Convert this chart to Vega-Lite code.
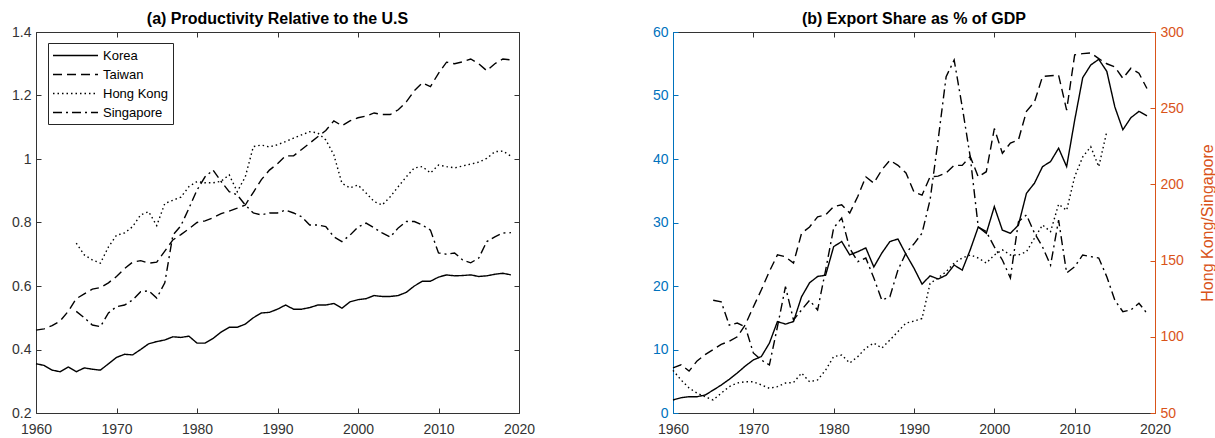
{
  "$schema": "https://vega.github.io/schema/vega-lite/v6.json",
  "padding": {"left": 11, "top": 11, "right": 0, "bottom": 0},
  "config": {
    "font": "Liberation Sans",
    "view": {"stroke": null},
    "concat": {"spacing": 117},
    "axis": {
      "grid": false,
      "title": null,
      "labelFont": "Liberation Sans",
      "labelFontSize": 14,
      "labelColor": "#333333",
      "domainColor": "#333333",
      "tickColor": "#333333",
      "domainWidth": 1,
      "tickWidth": 1,
      "tickSize": -5,
      "labelFlush": false,
      "labelOverlap": false
    },
    "axisX": {"labelPadding": 14},
    "axisY": {"labelPadding": 10},
    "title": {"font": "Liberation Sans", "fontSize": 16, "fontWeight": "bold", "color": "#000000", "offset": -2, "anchor": "middle", "frame": "group"}
  },
  "datasets": {
    "prod": [
      {"c":"Korea","y":1960,"v":0.355},{"c":"Korea","y":1961,"v":0.35},{"c":"Korea","y":1962,"v":0.335},{"c":"Korea","y":1963,"v":0.33},{"c":"Korea","y":1964,"v":0.345},{"c":"Korea","y":1965,"v":0.33},{"c":"Korea","y":1966,"v":0.342},{"c":"Korea","y":1967,"v":0.338},{"c":"Korea","y":1968,"v":0.335},{"c":"Korea","y":1969,"v":0.355},
      {"c":"Korea","y":1970,"v":0.375},{"c":"Korea","y":1971,"v":0.385},{"c":"Korea","y":1972,"v":0.383},{"c":"Korea","y":1973,"v":0.4},{"c":"Korea","y":1974,"v":0.418},{"c":"Korea","y":1975,"v":0.425},{"c":"Korea","y":1976,"v":0.43},{"c":"Korea","y":1977,"v":0.44},{"c":"Korea","y":1978,"v":0.438},{"c":"Korea","y":1979,"v":0.442},
      {"c":"Korea","y":1980,"v":0.42},{"c":"Korea","y":1981,"v":0.42},{"c":"Korea","y":1982,"v":0.435},{"c":"Korea","y":1983,"v":0.455},{"c":"Korea","y":1984,"v":0.47},{"c":"Korea","y":1985,"v":0.47},{"c":"Korea","y":1986,"v":0.48},{"c":"Korea","y":1987,"v":0.5},{"c":"Korea","y":1988,"v":0.515},{"c":"Korea","y":1989,"v":0.517},
      {"c":"Korea","y":1990,"v":0.527},{"c":"Korea","y":1991,"v":0.54},{"c":"Korea","y":1992,"v":0.527},{"c":"Korea","y":1993,"v":0.527},{"c":"Korea","y":1994,"v":0.532},{"c":"Korea","y":1995,"v":0.54},{"c":"Korea","y":1996,"v":0.54},{"c":"Korea","y":1997,"v":0.545},{"c":"Korea","y":1998,"v":0.53},{"c":"Korea","y":1999,"v":0.55},
      {"c":"Korea","y":2000,"v":0.557},{"c":"Korea","y":2001,"v":0.56},{"c":"Korea","y":2002,"v":0.57},{"c":"Korea","y":2003,"v":0.567},{"c":"Korea","y":2004,"v":0.567},{"c":"Korea","y":2005,"v":0.57},{"c":"Korea","y":2006,"v":0.58},{"c":"Korea","y":2007,"v":0.6},{"c":"Korea","y":2008,"v":0.615},{"c":"Korea","y":2009,"v":0.615},
      {"c":"Korea","y":2010,"v":0.628},{"c":"Korea","y":2011,"v":0.635},{"c":"Korea","y":2012,"v":0.632},{"c":"Korea","y":2013,"v":0.633},{"c":"Korea","y":2014,"v":0.635},{"c":"Korea","y":2015,"v":0.63},{"c":"Korea","y":2016,"v":0.632},{"c":"Korea","y":2017,"v":0.637},{"c":"Korea","y":2018,"v":0.64},{"c":"Korea","y":2019,"v":0.635},

      {"c":"Taiwan","y":1960,"v":0.461},{"c":"Taiwan","y":1961,"v":0.465},{"c":"Taiwan","y":1962,"v":0.475},{"c":"Taiwan","y":1963,"v":0.49},{"c":"Taiwan","y":1964,"v":0.52},{"c":"Taiwan","y":1965,"v":0.56},{"c":"Taiwan","y":1966,"v":0.575},{"c":"Taiwan","y":1967,"v":0.59},{"c":"Taiwan","y":1968,"v":0.595},{"c":"Taiwan","y":1969,"v":0.61},
      {"c":"Taiwan","y":1970,"v":0.63},{"c":"Taiwan","y":1971,"v":0.655},{"c":"Taiwan","y":1972,"v":0.675},{"c":"Taiwan","y":1973,"v":0.68},{"c":"Taiwan","y":1974,"v":0.672},{"c":"Taiwan","y":1975,"v":0.675},{"c":"Taiwan","y":1976,"v":0.71},{"c":"Taiwan","y":1977,"v":0.745},{"c":"Taiwan","y":1978,"v":0.762},{"c":"Taiwan","y":1979,"v":0.78},
      {"c":"Taiwan","y":1980,"v":0.8},{"c":"Taiwan","y":1981,"v":0.805},{"c":"Taiwan","y":1982,"v":0.815},{"c":"Taiwan","y":1983,"v":0.828},{"c":"Taiwan","y":1984,"v":0.836},{"c":"Taiwan","y":1985,"v":0.845},{"c":"Taiwan","y":1986,"v":0.855},{"c":"Taiwan","y":1987,"v":0.895},{"c":"Taiwan","y":1988,"v":0.935},{"c":"Taiwan","y":1989,"v":0.965},
      {"c":"Taiwan","y":1990,"v":0.985},{"c":"Taiwan","y":1991,"v":1.01},{"c":"Taiwan","y":1992,"v":1.01},{"c":"Taiwan","y":1993,"v":1.03},{"c":"Taiwan","y":1994,"v":1.05},{"c":"Taiwan","y":1995,"v":1.07},{"c":"Taiwan","y":1996,"v":1.09},{"c":"Taiwan","y":1997,"v":1.12},{"c":"Taiwan","y":1998,"v":1.105},{"c":"Taiwan","y":1999,"v":1.12},
      {"c":"Taiwan","y":2000,"v":1.13},{"c":"Taiwan","y":2001,"v":1.135},{"c":"Taiwan","y":2002,"v":1.145},{"c":"Taiwan","y":2003,"v":1.14},{"c":"Taiwan","y":2004,"v":1.14},{"c":"Taiwan","y":2005,"v":1.155},{"c":"Taiwan","y":2006,"v":1.18},{"c":"Taiwan","y":2007,"v":1.215},{"c":"Taiwan","y":2008,"v":1.24},{"c":"Taiwan","y":2009,"v":1.228},
      {"c":"Taiwan","y":2010,"v":1.27},{"c":"Taiwan","y":2011,"v":1.305},{"c":"Taiwan","y":2012,"v":1.3},{"c":"Taiwan","y":2013,"v":1.306},{"c":"Taiwan","y":2014,"v":1.315},{"c":"Taiwan","y":2015,"v":1.3},{"c":"Taiwan","y":2016,"v":1.278},{"c":"Taiwan","y":2017,"v":1.3},{"c":"Taiwan","y":2018,"v":1.315},{"c":"Taiwan","y":2019,"v":1.312},

      {"c":"Hong Kong","y":1965,"v":0.735},{"c":"Hong Kong","y":1966,"v":0.698},{"c":"Hong Kong","y":1967,"v":0.682},{"c":"Hong Kong","y":1968,"v":0.672},{"c":"Hong Kong","y":1969,"v":0.723},
      {"c":"Hong Kong","y":1970,"v":0.76},{"c":"Hong Kong","y":1971,"v":0.767},{"c":"Hong Kong","y":1972,"v":0.787},{"c":"Hong Kong","y":1973,"v":0.824},{"c":"Hong Kong","y":1974,"v":0.834},{"c":"Hong Kong","y":1975,"v":0.79},{"c":"Hong Kong","y":1976,"v":0.86},{"c":"Hong Kong","y":1977,"v":0.87},{"c":"Hong Kong","y":1978,"v":0.88},{"c":"Hong Kong","y":1979,"v":0.913},
      {"c":"Hong Kong","y":1980,"v":0.929},{"c":"Hong Kong","y":1981,"v":0.925},{"c":"Hong Kong","y":1982,"v":0.925},{"c":"Hong Kong","y":1983,"v":0.93},{"c":"Hong Kong","y":1984,"v":0.95},{"c":"Hong Kong","y":1985,"v":0.897},{"c":"Hong Kong","y":1986,"v":0.944},{"c":"Hong Kong","y":1987,"v":1.039},{"c":"Hong Kong","y":1988,"v":1.044},{"c":"Hong Kong","y":1989,"v":1.038},
      {"c":"Hong Kong","y":1990,"v":1.045},{"c":"Hong Kong","y":1991,"v":1.055},{"c":"Hong Kong","y":1992,"v":1.066},{"c":"Hong Kong","y":1993,"v":1.076},{"c":"Hong Kong","y":1994,"v":1.086},{"c":"Hong Kong","y":1995,"v":1.082},{"c":"Hong Kong","y":1996,"v":1.06},{"c":"Hong Kong","y":1997,"v":1.013},{"c":"Hong Kong","y":1998,"v":0.924},{"c":"Hong Kong","y":1999,"v":0.909},
      {"c":"Hong Kong","y":2000,"v":0.918},{"c":"Hong Kong","y":2001,"v":0.893},{"c":"Hong Kong","y":2002,"v":0.866},{"c":"Hong Kong","y":2003,"v":0.855},{"c":"Hong Kong","y":2004,"v":0.881},{"c":"Hong Kong","y":2005,"v":0.913},{"c":"Hong Kong","y":2006,"v":0.944},{"c":"Hong Kong","y":2007,"v":0.972},{"c":"Hong Kong","y":2008,"v":0.976},{"c":"Hong Kong","y":2009,"v":0.956},
      {"c":"Hong Kong","y":2010,"v":0.981},{"c":"Hong Kong","y":2011,"v":0.976},{"c":"Hong Kong","y":2012,"v":0.972},{"c":"Hong Kong","y":2013,"v":0.978},{"c":"Hong Kong","y":2014,"v":0.984},{"c":"Hong Kong","y":2015,"v":0.99},{"c":"Hong Kong","y":2016,"v":1.002},{"c":"Hong Kong","y":2017,"v":1.023},{"c":"Hong Kong","y":2018,"v":1.025},{"c":"Hong Kong","y":2019,"v":1.009},

      {"c":"Singapore","y":1965,"v":0.52},{"c":"Singapore","y":1966,"v":0.5},{"c":"Singapore","y":1967,"v":0.477},{"c":"Singapore","y":1968,"v":0.472},{"c":"Singapore","y":1969,"v":0.515},
      {"c":"Singapore","y":1970,"v":0.535},{"c":"Singapore","y":1971,"v":0.54},{"c":"Singapore","y":1972,"v":0.556},{"c":"Singapore","y":1973,"v":0.582},{"c":"Singapore","y":1974,"v":0.585},{"c":"Singapore","y":1975,"v":0.562},{"c":"Singapore","y":1976,"v":0.61},{"c":"Singapore","y":1977,"v":0.76},{"c":"Singapore","y":1978,"v":0.79},{"c":"Singapore","y":1979,"v":0.845},
      {"c":"Singapore","y":1980,"v":0.902},{"c":"Singapore","y":1981,"v":0.944},{"c":"Singapore","y":1982,"v":0.965},{"c":"Singapore","y":1983,"v":0.929},{"c":"Singapore","y":1984,"v":0.897},{"c":"Singapore","y":1985,"v":0.887},{"c":"Singapore","y":1986,"v":0.855},{"c":"Singapore","y":1987,"v":0.83},{"c":"Singapore","y":1988,"v":0.824},{"c":"Singapore","y":1989,"v":0.83},
      {"c":"Singapore","y":1990,"v":0.83},{"c":"Singapore","y":1991,"v":0.839},{"c":"Singapore","y":1992,"v":0.83},{"c":"Singapore","y":1993,"v":0.818},{"c":"Singapore","y":1994,"v":0.792},{"c":"Singapore","y":1995,"v":0.792},{"c":"Singapore","y":1996,"v":0.787},{"c":"Singapore","y":1997,"v":0.755},{"c":"Singapore","y":1998,"v":0.74},{"c":"Singapore","y":1999,"v":0.76},
      {"c":"Singapore","y":2000,"v":0.786},{"c":"Singapore","y":2001,"v":0.798},{"c":"Singapore","y":2002,"v":0.783},{"c":"Singapore","y":2003,"v":0.767},{"c":"Singapore","y":2004,"v":0.754},{"c":"Singapore","y":2005,"v":0.783},{"c":"Singapore","y":2006,"v":0.803},{"c":"Singapore","y":2007,"v":0.803},{"c":"Singapore","y":2008,"v":0.792},{"c":"Singapore","y":2009,"v":0.776},
      {"c":"Singapore","y":2010,"v":0.704},{"c":"Singapore","y":2011,"v":0.7},{"c":"Singapore","y":2012,"v":0.704},{"c":"Singapore","y":2013,"v":0.682},{"c":"Singapore","y":2014,"v":0.673},{"c":"Singapore","y":2015,"v":0.688},{"c":"Singapore","y":2016,"v":0.74},{"c":"Singapore","y":2017,"v":0.755},{"c":"Singapore","y":2018,"v":0.767},{"c":"Singapore","y":2019,"v":0.768}
    ],
    "expA": [
      {"c":"Korea","y":1960,"v":2.05},{"c":"Korea","y":1961,"v":2.4},{"c":"Korea","y":1962,"v":2.57},{"c":"Korea","y":1963,"v":2.57},{"c":"Korea","y":1964,"v":2.83},{"c":"Korea","y":1965,"v":3.6},{"c":"Korea","y":1966,"v":4.4},{"c":"Korea","y":1967,"v":5.3},{"c":"Korea","y":1968,"v":6.3},{"c":"Korea","y":1969,"v":7.4},
      {"c":"Korea","y":1970,"v":8.35},{"c":"Korea","y":1971,"v":8.9},{"c":"Korea","y":1972,"v":11},{"c":"Korea","y":1973,"v":14.4},{"c":"Korea","y":1974,"v":14},{"c":"Korea","y":1975,"v":14.4},{"c":"Korea","y":1976,"v":18.3},{"c":"Korea","y":1977,"v":20.5},{"c":"Korea","y":1978,"v":21.5},{"c":"Korea","y":1979,"v":21.7},
      {"c":"Korea","y":1980,"v":26.2},{"c":"Korea","y":1981,"v":27},{"c":"Korea","y":1982,"v":24.9},{"c":"Korea","y":1983,"v":25.4},{"c":"Korea","y":1984,"v":26},{"c":"Korea","y":1985,"v":23},{"c":"Korea","y":1986,"v":25.2},{"c":"Korea","y":1987,"v":27},{"c":"Korea","y":1988,"v":27.4},{"c":"Korea","y":1989,"v":25},
      {"c":"Korea","y":1990,"v":22.8},{"c":"Korea","y":1991,"v":20.3},{"c":"Korea","y":1992,"v":21.6},{"c":"Korea","y":1993,"v":21.1},{"c":"Korea","y":1994,"v":21.7},{"c":"Korea","y":1995,"v":23.3},{"c":"Korea","y":1996,"v":22.5},{"c":"Korea","y":1997,"v":25.7},{"c":"Korea","y":1998,"v":29.3},{"c":"Korea","y":1999,"v":28.3},
      {"c":"Korea","y":2000,"v":32.5},{"c":"Korea","y":2001,"v":28.8},{"c":"Korea","y":2002,"v":28.3},{"c":"Korea","y":2003,"v":29.6},{"c":"Korea","y":2004,"v":34.6},{"c":"Korea","y":2005,"v":36.2},{"c":"Korea","y":2006,"v":38.8},{"c":"Korea","y":2007,"v":39.6},{"c":"Korea","y":2008,"v":41.7},{"c":"Korea","y":2009,"v":38.8},
      {"c":"Korea","y":2010,"v":46.1},{"c":"Korea","y":2011,"v":52.8},{"c":"Korea","y":2012,"v":54.8},{"c":"Korea","y":2013,"v":55.7},{"c":"Korea","y":2014,"v":53.8},{"c":"Korea","y":2015,"v":48.2},{"c":"Korea","y":2016,"v":44.6},{"c":"Korea","y":2017,"v":46.5},{"c":"Korea","y":2018,"v":47.5},{"c":"Korea","y":2019,"v":46.8},

      {"c":"Taiwan","y":1960,"v":7.1},{"c":"Taiwan","y":1961,"v":7.6},{"c":"Taiwan","y":1962,"v":6.6},{"c":"Taiwan","y":1963,"v":8.2},{"c":"Taiwan","y":1964,"v":9.2},{"c":"Taiwan","y":1965,"v":10},{"c":"Taiwan","y":1966,"v":10.8},{"c":"Taiwan","y":1967,"v":11.3},{"c":"Taiwan","y":1968,"v":12},{"c":"Taiwan","y":1969,"v":13.9},
      {"c":"Taiwan","y":1970,"v":16.7},{"c":"Taiwan","y":1971,"v":19.4},{"c":"Taiwan","y":1972,"v":22.3},{"c":"Taiwan","y":1973,"v":24.9},{"c":"Taiwan","y":1974,"v":24.6},{"c":"Taiwan","y":1975,"v":23.6},{"c":"Taiwan","y":1976,"v":28.3},{"c":"Taiwan","y":1977,"v":29.3},{"c":"Taiwan","y":1978,"v":30.9},{"c":"Taiwan","y":1979,"v":31.2},
      {"c":"Taiwan","y":1980,"v":32.5},{"c":"Taiwan","y":1981,"v":32.8},{"c":"Taiwan","y":1982,"v":31.5},{"c":"Taiwan","y":1983,"v":34.1},{"c":"Taiwan","y":1984,"v":37.2},{"c":"Taiwan","y":1985,"v":36.2},{"c":"Taiwan","y":1986,"v":38.3},{"c":"Taiwan","y":1987,"v":39.8},{"c":"Taiwan","y":1988,"v":39},{"c":"Taiwan","y":1989,"v":37.8},
      {"c":"Taiwan","y":1990,"v":34.8},{"c":"Taiwan","y":1991,"v":34.3},{"c":"Taiwan","y":1992,"v":37.2},{"c":"Taiwan","y":1993,"v":37.3},{"c":"Taiwan","y":1994,"v":37.8},{"c":"Taiwan","y":1995,"v":39},{"c":"Taiwan","y":1996,"v":39},{"c":"Taiwan","y":1997,"v":40.4},{"c":"Taiwan","y":1998,"v":37.2},{"c":"Taiwan","y":1999,"v":38},
      {"c":"Taiwan","y":2000,"v":44.8},{"c":"Taiwan","y":2001,"v":40.9},{"c":"Taiwan","y":2002,"v":42.5},{"c":"Taiwan","y":2003,"v":43},{"c":"Taiwan","y":2004,"v":47.5},{"c":"Taiwan","y":2005,"v":49},{"c":"Taiwan","y":2006,"v":53},{"c":"Taiwan","y":2007,"v":53.1},{"c":"Taiwan","y":2008,"v":53.2},{"c":"Taiwan","y":2009,"v":47.7},
      {"c":"Taiwan","y":2010,"v":56.4},{"c":"Taiwan","y":2011,"v":56.6},{"c":"Taiwan","y":2012,"v":56.7},{"c":"Taiwan","y":2013,"v":55.8},{"c":"Taiwan","y":2014,"v":55},{"c":"Taiwan","y":2015,"v":54.5},{"c":"Taiwan","y":2016,"v":52.7},{"c":"Taiwan","y":2017,"v":54.3},{"c":"Taiwan","y":2018,"v":53.5},{"c":"Taiwan","y":2019,"v":51.1}
    ],
    "expB": [
      {"c":"Hong Kong","y":1960,"v":78},{"c":"Hong Kong","y":1961,"v":71.7},{"c":"Hong Kong","y":1962,"v":66.4},{"c":"Hong Kong","y":1963,"v":63},{"c":"Hong Kong","y":1964,"v":60.7},{"c":"Hong Kong","y":1965,"v":58.5},{"c":"Hong Kong","y":1966,"v":63},{"c":"Hong Kong","y":1967,"v":67.3},{"c":"Hong Kong","y":1968,"v":69.7},{"c":"Hong Kong","y":1969,"v":70.5},
      {"c":"Hong Kong","y":1970,"v":70.5},{"c":"Hong Kong","y":1971,"v":68.4},{"c":"Hong Kong","y":1972,"v":66.2},{"c":"Hong Kong","y":1973,"v":67.3},{"c":"Hong Kong","y":1974,"v":69.7},{"c":"Hong Kong","y":1975,"v":70},{"c":"Hong Kong","y":1976,"v":76.2},{"c":"Hong Kong","y":1977,"v":70.5},{"c":"Hong Kong","y":1978,"v":71.7},{"c":"Hong Kong","y":1979,"v":78.2},
      {"c":"Hong Kong","y":1980,"v":87},{"c":"Hong Kong","y":1981,"v":88},{"c":"Hong Kong","y":1982,"v":82.8},{"c":"Hong Kong","y":1983,"v":87},{"c":"Hong Kong","y":1984,"v":92.6},{"c":"Hong Kong","y":1985,"v":95.9},{"c":"Hong Kong","y":1986,"v":92.6},{"c":"Hong Kong","y":1987,"v":97.9},{"c":"Hong Kong","y":1988,"v":103.4},{"c":"Hong Kong","y":1989,"v":109},
      {"c":"Hong Kong","y":1990,"v":110.3},{"c":"Hong Kong","y":1991,"v":112},{"c":"Hong Kong","y":1992,"v":135},{"c":"Hong Kong","y":1993,"v":138.6},{"c":"Hong Kong","y":1994,"v":142.7},{"c":"Hong Kong","y":1995,"v":148.4},{"c":"Hong Kong","y":1996,"v":151.7},{"c":"Hong Kong","y":1997,"v":153.7},{"c":"Hong Kong","y":1998,"v":151.7},{"c":"Hong Kong","y":1999,"v":148.4},
      {"c":"Hong Kong","y":2000,"v":153.7},{"c":"Hong Kong","y":2001,"v":157},{"c":"Hong Kong","y":2002,"v":153.7},{"c":"Hong Kong","y":2003,"v":153.7},{"c":"Hong Kong","y":2004,"v":155.8},{"c":"Hong Kong","y":2005,"v":164.8},{"c":"Hong Kong","y":2006,"v":173.4},{"c":"Hong Kong","y":2007,"v":169},{"c":"Hong Kong","y":2008,"v":187},{"c":"Hong Kong","y":2009,"v":183},
      {"c":"Hong Kong","y":2010,"v":205},{"c":"Hong Kong","y":2011,"v":218},{"c":"Hong Kong","y":2012,"v":224.7},{"c":"Hong Kong","y":2013,"v":211.6},{"c":"Hong Kong","y":2014,"v":234.6},

      {"c":"Singapore","y":1965,"v":124},{"c":"Singapore","y":1966,"v":123},{"c":"Singapore","y":1967,"v":107.7},{"c":"Singapore","y":1968,"v":109},{"c":"Singapore","y":1969,"v":106.6},
      {"c":"Singapore","y":1970,"v":89.4},{"c":"Singapore","y":1971,"v":84.8},{"c":"Singapore","y":1972,"v":81.5},{"c":"Singapore","y":1973,"v":106.6},{"c":"Singapore","y":1974,"v":132.9},{"c":"Singapore","y":1975,"v":111},{"c":"Singapore","y":1976,"v":117.6},{"c":"Singapore","y":1977,"v":124},{"c":"Singapore","y":1978,"v":117.6},{"c":"Singapore","y":1979,"v":143.8},
      {"c":"Singapore","y":1980,"v":171.4},{"c":"Singapore","y":1981,"v":178},{"c":"Singapore","y":1982,"v":158},{"c":"Singapore","y":1983,"v":149.3},{"c":"Singapore","y":1984,"v":151.7},{"c":"Singapore","y":1985,"v":138.6},{"c":"Singapore","y":1986,"v":124},{"c":"Singapore","y":1987,"v":126.3},{"c":"Singapore","y":1988,"v":143.8},{"c":"Singapore","y":1989,"v":155},
      {"c":"Singapore","y":1990,"v":161},{"c":"Singapore","y":1991,"v":168},{"c":"Singapore","y":1992,"v":189.8},{"c":"Singapore","y":1993,"v":229},{"c":"Singapore","y":1994,"v":270.7},{"c":"Singapore","y":1995,"v":281.6},{"c":"Singapore","y":1996,"v":251},{"c":"Singapore","y":1997,"v":218},{"c":"Singapore","y":1998,"v":172},{"c":"Singapore","y":1999,"v":169},
      {"c":"Singapore","y":2000,"v":159},{"c":"Singapore","y":2001,"v":150.4},{"c":"Singapore","y":2002,"v":138.6},{"c":"Singapore","y":2003,"v":175.5},{"c":"Singapore","y":2004,"v":180},{"c":"Singapore","y":2005,"v":168},{"c":"Singapore","y":2006,"v":159},{"c":"Singapore","y":2007,"v":147},{"c":"Singapore","y":2008,"v":176.6},{"c":"Singapore","y":2009,"v":141.9},
      {"c":"Singapore","y":2010,"v":146},{"c":"Singapore","y":2011,"v":153.7},{"c":"Singapore","y":2012,"v":152.6},{"c":"Singapore","y":2013,"v":151.7},{"c":"Singapore","y":2014,"v":139.4},{"c":"Singapore","y":2015,"v":124},{"c":"Singapore","y":2016,"v":116.5},{"c":"Singapore","y":2017,"v":117.6},{"c":"Singapore","y":2018,"v":122},{"c":"Singapore","y":2019,"v":115.4}
    ]
  },
  "hconcat": [
    {
      "title": "(a) Productivity Relative to the U.S",
      "width": 483,
      "height": 381,
      "data": {"name": "prod"},
      "layer": [
        {
          "mark": {"type": "line", "color": "#000000", "strokeWidth": 1.4},
          "encoding": {
            "x": {"field": "y", "type": "quantitative", "scale": {"domain": [1960, 2020], "nice": false, "zero": false},
                  "axis": {"orient": "bottom", "values": [1960, 1970, 1980, 1990, 2000, 2010, 2020], "format": "d"}},
            "y": {"field": "v", "type": "quantitative", "scale": {"domain": [0.2, 1.4], "nice": false, "zero": false},
                  "axis": {"orient": "left", "values": [0.2, 0.4, 0.6, 0.8, 1, 1.2, 1.4], "format": ".1~f"}},
            "strokeDash": {"field": "c", "type": "nominal",
                  "scale": {"domain": ["Korea", "Taiwan", "Hong Kong", "Singapore"], "range": [[1, 0], [9, 5], [1.5, 3], [9, 4, 2, 4]]},
                  "legend": {"title": null, "orient": "none", "legendX": 12, "legendY": 11, "symbolType": "M-1,0H5", "symbolSize": 225, "symbolStrokeWidth": 1.3, "symbolStrokeColor": "#000000", "symbolFillColor": "transparent", "labelFont": "Liberation Sans", "labelFontSize": 13, "labelColor": "#000000", "strokeColor": "#262626", "fillColor": "#ffffff", "padding": 4, "rowPadding": 3, "labelOffset": 34}}
          }
        },
        {
          "mark": {"type": "line", "strokeOpacity": 0},
          "encoding": {
            "detail": {"field": "c"},
            "x": {"field": "y", "type": "quantitative", "scale": {"domain": [1960, 2020], "nice": false, "zero": false},
                  "axis": {"orient": "top", "values": [1960, 1970, 1980, 1990, 2000, 2010, 2020], "labels": false, "minExtent": 0}},
            "y": {"field": "v", "type": "quantitative", "scale": {"domain": [0.2, 1.4], "nice": false, "zero": false},
                  "axis": {"orient": "right", "values": [0.2, 0.4, 0.6, 0.8, 1, 1.2, 1.4], "labels": false, "minExtent": 0}}
          }
        }
      ],
      "resolve": {"axis": {"x": "independent", "y": "independent"}}
    },
    {
      "title": "(b) Export Share as % of GDP",
      "width": 482,
      "height": 381,
      "layer": [
        {
          "data": {"name": "expA"},
          "mark": {"type": "line", "color": "#000000", "strokeWidth": 1.4},
          "encoding": {
            "x": {"field": "y", "type": "quantitative", "scale": {"domain": [1960, 2020], "nice": false, "zero": false},
                  "axis": {"orient": "bottom", "values": [1960, 1970, 1980, 1990, 2000, 2010, 2020], "format": "d"}},
            "y": {"field": "v", "type": "quantitative", "scale": {"domain": [0, 60], "nice": false, "zero": false},
                  "axis": {"orient": "left", "values": [0, 10, 20, 30, 40, 50, 60], "format": "d", "labelColor": "#0072BD", "domainColor": "#0072BD", "tickColor": "#0072BD"}},
            "strokeDash": {"field": "c", "type": "nominal",
                  "scale": {"domain": ["Korea", "Taiwan", "Hong Kong", "Singapore"], "range": [[1, 0], [9, 5], [1.5, 3], [9, 4, 2, 4]]},
                  "legend": {"title": null, "orient": "none", "legendX": 12, "legendY": 12, "symbolType": "M-1,0H5", "symbolSize": 225, "symbolStrokeWidth": 1.3, "symbolStrokeColor": "#000000", "symbolFillColor": "transparent", "labelFont": "Liberation Sans", "labelFontSize": 13, "labelColor": "#000000", "strokeColor": "#262626", "fillColor": "#ffffff", "padding": 4, "rowPadding": 3, "labelOffset": 34}}
          }
        },
        {
          "data": {"name": "expB"},
          "mark": {"type": "line", "color": "#000000", "strokeWidth": 1.4},
          "encoding": {
            "x": {"field": "y", "type": "quantitative", "scale": {"domain": [1960, 2020], "nice": false, "zero": false},
                  "axis": {"orient": "top", "values": [1960, 1970, 1980, 1990, 2000, 2010, 2020], "labels": false, "minExtent": 0}},
            "y": {"field": "v", "type": "quantitative", "scale": {"domain": [50, 300], "nice": false, "zero": false},
                  "axis": {"orient": "right", "values": [50, 100, 150, 200, 250, 300], "format": "d", "labelColor": "#D95319", "domainColor": "#D95319", "tickColor": "#D95319",
                           "title": "Hong Kong/Singapore", "titleColor": "#D95319", "titleFont": "Liberation Sans", "titleFontSize": 16, "titleFontWeight": "normal", "titleAngle": 270, "titleBaseline": "top", "titlePadding": 16}},
            "strokeDash": {"field": "c", "type": "nominal",
                  "scale": {"domain": ["Korea", "Taiwan", "Hong Kong", "Singapore"], "range": [[1, 0], [9, 5], [1.5, 3], [9, 4, 2, 4]]},
                  "legend": {"title": null, "orient": "none", "legendX": 12, "legendY": 12, "symbolType": "M-1,0H5", "symbolSize": 225, "symbolStrokeWidth": 1.3, "symbolStrokeColor": "#000000", "symbolFillColor": "transparent", "labelFont": "Liberation Sans", "labelFontSize": 13, "labelColor": "#000000", "strokeColor": "#262626", "fillColor": "#ffffff", "padding": 4, "rowPadding": 3, "labelOffset": 34}}
          }
        }
      ],
      "resolve": {"scale": {"y": "independent"}, "axis": {"x": "independent", "y": "independent"}}
    }
  ]
}
